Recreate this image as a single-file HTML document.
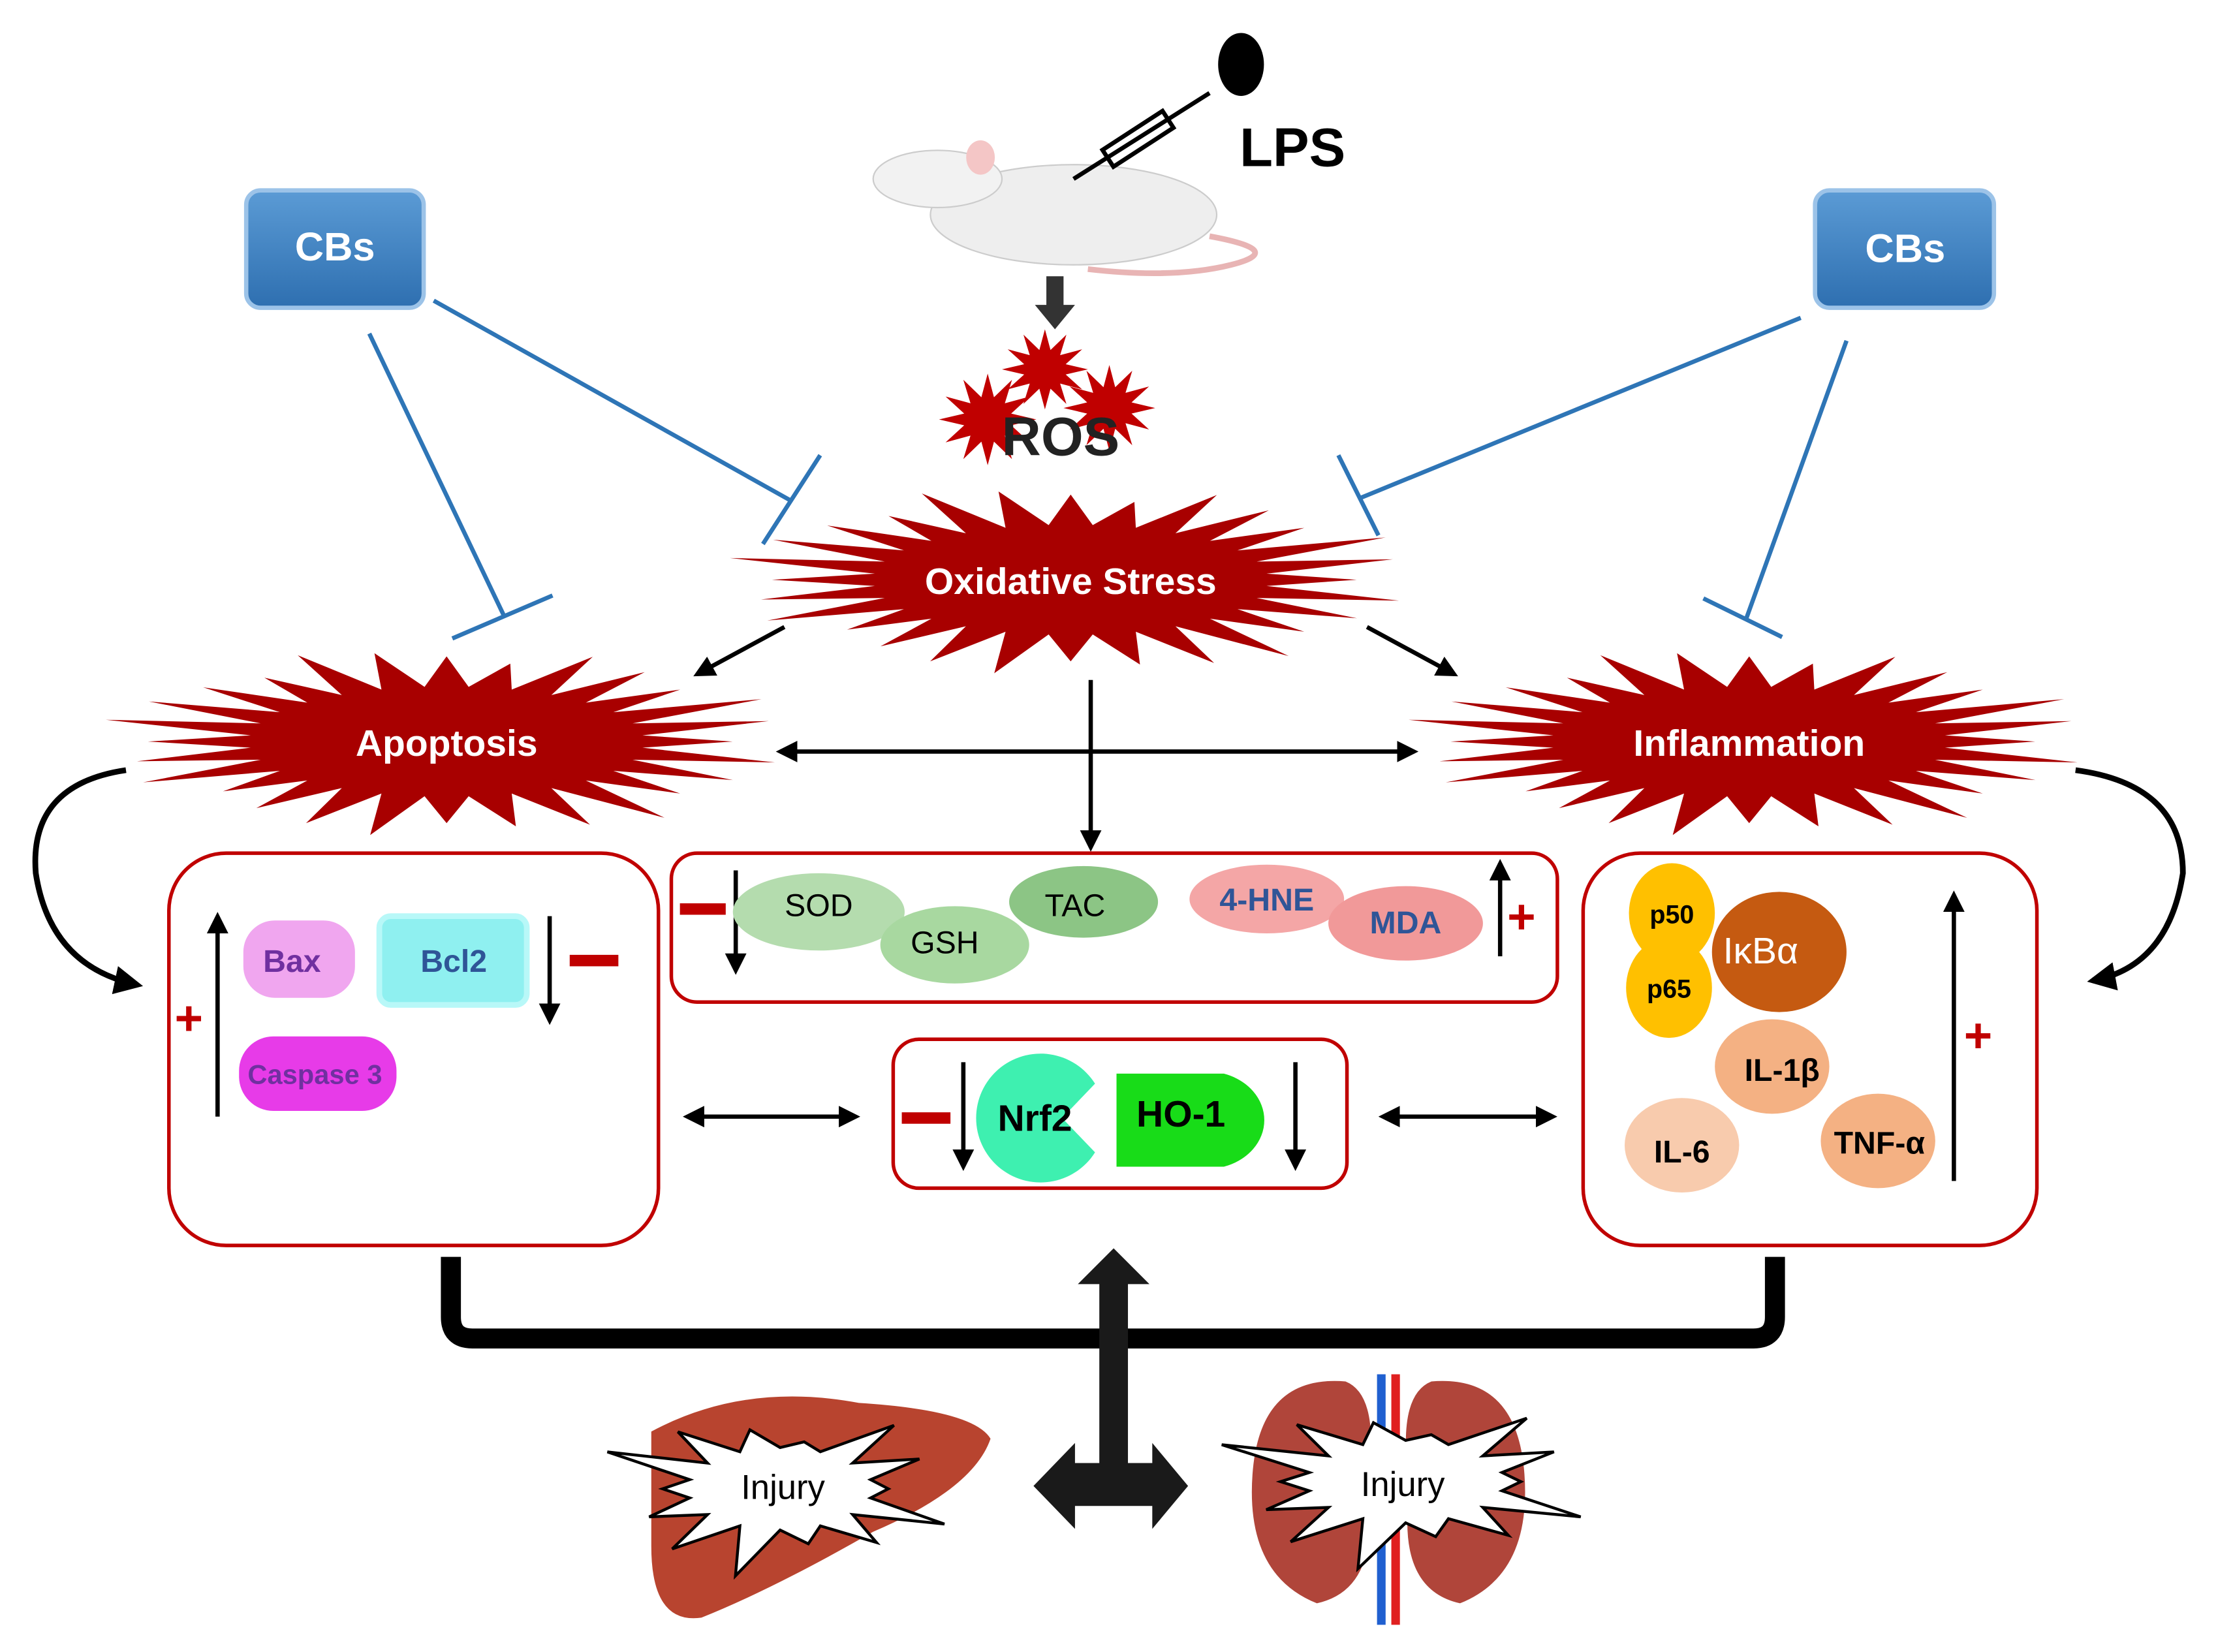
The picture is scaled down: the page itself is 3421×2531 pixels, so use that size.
<!DOCTYPE html>
<html><head><meta charset="utf-8"><style>
html,body{margin:0;padding:0;background:#fff}
svg{display:block}
text{font-family:"Liberation Sans","DejaVu Sans",sans-serif}
</style></head><body>
<svg id="s" width="3421" height="2531" viewBox="0 0 1560 1154" preserveAspectRatio="none" xmlns="http://www.w3.org/2000/svg">
<defs>
<marker id="ah" viewBox="0 0 10 10" refX="8" refY="5" markerWidth="5" markerHeight="5" orient="auto-start-reverse"><path d="M0,0L10,5L0,10z" fill="#000"/></marker>
<linearGradient id="cb" x1="0" y1="0" x2="0" y2="1"><stop offset="0" stop-color="#5b9bd5"/><stop offset="1" stop-color="#2e6fb0"/></linearGradient>
</defs>
<g id="bursts"></g>
<rect x="172" y="133" width="124" height="82" rx="10" fill="url(#cb)" stroke="#9cc3e8" stroke-width="3"/>
<text x="234" y="182" font-size="28" font-weight="bold" fill="#fff" text-anchor="middle">CBs</text>
<rect x="1268" y="133" width="125" height="82" rx="10" fill="url(#cb)" stroke="#9cc3e8" stroke-width="3"/>
<text x="1331" y="183" font-size="28" font-weight="bold" fill="#fff" text-anchor="middle">CBs</text>
<g stroke="#2e75b6" stroke-width="3">
<line x1="258" y1="233" x2="352" y2="430"/><line x1="316" y1="446" x2="386" y2="416"/>
<line x1="303" y1="210" x2="553" y2="350"/><line x1="533" y1="380" x2="573" y2="318"/>
<line x1="1258" y1="222" x2="950" y2="348"/><line x1="935" y1="318" x2="963" y2="374"/>
<line x1="1290" y1="238" x2="1220" y2="432"/><line x1="1190" y1="418" x2="1245" y2="445"/>
</g>
<ellipse cx="750" cy="150" rx="100" ry="35" fill="#eee" stroke="#ccc"/>
<ellipse cx="655" cy="125" rx="45" ry="20" fill="#f2f2f2" stroke="#ccc"/>
<ellipse cx="685" cy="110" rx="10" ry="12" fill="#f4c6c6"/>
<path d="M845,165 Q900,175 860,185 Q820,195 760,188" fill="none" stroke="#e8b4b4" stroke-width="4"/>
<g stroke="#000" stroke-width="3" fill="none"><line x1="750" y1="125" x2="845" y2="65"/><rect x="770" y="90" width="50" height="14" transform="rotate(-33 795 97)"/></g>
<ellipse cx="867" cy="45" rx="16" ry="22" fill="#000"/>
<text x="866" y="116" font-size="38" font-weight="bold">LPS</text>
<path d="M731,193h12v20h8l-14,17l-14,-17h8z" fill="#333"/>
<text x="741" y="318" font-size="38" font-weight="bold" text-anchor="middle" fill="#222">ROS</text>
<text x="748" y="415" font-size="26" font-weight="bold" fill="#fff" text-anchor="middle">Oxidative Stress</text>
<text x="312" y="528" font-size="26" font-weight="bold" fill="#fff" text-anchor="middle">Apoptosis</text>
<text x="1222" y="528" font-size="26" font-weight="bold" fill="#fff" text-anchor="middle">Inflammation</text>
<g stroke="#000" stroke-width="3" fill="none" marker-end="url(#ah)">
<line x1="548" y1="438" x2="487" y2="471"/>
<line x1="955" y1="438" x2="1016" y2="471"/>
<line x1="762" y1="475" x2="762" y2="592"/>
<line x1="545" y1="525" x2="988" y2="525" marker-start="url(#ah)"/>
<line x1="480" y1="780" x2="598" y2="780" marker-start="url(#ah)"/>
<line x1="966" y1="780" x2="1085" y2="780" marker-start="url(#ah)"/>
<path d="M88,538 Q20,548 25,610 Q35,675 96,688" stroke-width="4"/>
<path d="M1450,538 Q1525,548 1525,610 Q1515,675 1462,685" stroke-width="4"/>
<line x1="152" y1="780" x2="152" y2="640"/>
<line x1="384" y1="640" x2="384" y2="713"/>
<line x1="514" y1="608" x2="514" y2="678"/>
<line x1="1048" y1="668" x2="1048" y2="603"/>
<line x1="673" y1="742" x2="673" y2="815"/>
<line x1="905" y1="742" x2="905" y2="815"/>
<line x1="1365" y1="825" x2="1365" y2="625"/>
</g>
<g fill="none" stroke="#c00000" stroke-width="2.5">
<rect x="118" y="596" width="342" height="274" rx="40"/>
<rect x="469" y="596" width="619" height="104" rx="18"/>
<rect x="624" y="726" width="317" height="104" rx="18"/>
<rect x="1106" y="596" width="317" height="274" rx="40"/>
</g>
<g fill="#c00000">
<rect x="398" y="667" width="34" height="8"/><rect x="475" y="631" width="32" height="8"/><rect x="630" y="777" width="34" height="8"/>
</g>
<g fill="#c00000" font-size="34" font-weight="bold"><text x="122" y="723">+</text><text x="1053" y="652">+</text><text x="1372" y="735">+</text></g>
<rect x="170" y="643" width="78" height="54" rx="22" fill="#f0a6ef"/>
<text x="204" y="679" font-size="22" font-weight="bold" fill="#7030a0" text-anchor="middle">Bax</text>
<rect x="265" y="640" width="103" height="62" rx="8" fill="#8ff0f0" stroke="#b8f8f8" stroke-width="4"/>
<text x="317" y="679" font-size="22" font-weight="bold" fill="#2f5597" text-anchor="middle">Bcl2</text>
<rect x="167" y="724" width="110" height="52" rx="24" fill="#e73be8"/>
<text x="220" y="757" font-size="19" font-weight="bold" fill="#7030a0" text-anchor="middle">Caspase 3</text>
<ellipse cx="572" cy="637" rx="60" ry="27" fill="#b4dcae"/>
<ellipse cx="667" cy="660" rx="52" ry="27" fill="#a8d8a0"/>
<ellipse cx="757" cy="630" rx="52" ry="25" fill="#8cc585"/>
<ellipse cx="885" cy="628" rx="54" ry="24" fill="#f4a6a6"/>
<ellipse cx="982" cy="645" rx="54" ry="26" fill="#f19999"/>
<g font-size="22" text-anchor="middle"><text x="572" y="640">SOD</text><text x="660" y="666">GSH</text><text x="751" y="640">TAC</text>
<text x="885" y="636" fill="#2f5597" font-weight="bold">4-HNE</text><text x="982" y="652" fill="#2f5597" font-weight="bold">MDA</text></g>
<path d="M765,757 A45,45 0 1 0 765,805 L742,781z" fill="#3ef0b0"/>
<path d="M780,750 H855 A40,34 0 0 1 855,815 H780z" fill="#18dc18"/>
<text x="723" y="790" font-size="26" font-weight="bold" text-anchor="middle">Nrf2</text>
<text x="825" y="787" font-size="26" font-weight="bold" text-anchor="middle">HO-1</text>
<ellipse cx="1243" cy="665" rx="47" ry="42" fill="#c55a11"/>
<ellipse cx="1168" cy="638" rx="30" ry="35" fill="#ffc000"/>
<ellipse cx="1166" cy="690" rx="30" ry="35" fill="#ffc000"/>
<text x="1168" y="645" font-size="18" font-weight="bold" text-anchor="middle">p50</text>
<text x="1166" y="697" font-size="18" font-weight="bold" text-anchor="middle">p65</text>
<text x="1230" y="673" font-size="26" fill="#fff" text-anchor="middle">IκBα</text>
<ellipse cx="1238" cy="745" rx="40" ry="33" fill="#f4b183"/>
<ellipse cx="1175" cy="800" rx="40" ry="33" fill="#f8cbad"/>
<ellipse cx="1312" cy="797" rx="40" ry="33" fill="#f4b183"/>
<g font-size="22" font-weight="bold" text-anchor="middle"><text x="1245" y="755">IL-1β</text><text x="1175" y="812">IL-6</text><text x="1313" y="806">TNF-α</text></g>
<path d="M315,878 V920 Q315,935 330,935 H1225 Q1240,935 1240,920 V878" fill="none" stroke="#000" stroke-width="14"/>
<path d="M778,872 L803,897 H788 V1022 H805 V1008 L830,1038 L805,1068 V1052 H751 V1068 L722,1038 L751,1008 V1022 H768 V897 H753z" fill="#1a1a1a"/>
<path d="M455,1000 Q520,965 600,980 Q680,985 692,1005 Q680,1040 610,1070 Q540,1110 490,1130 Q455,1135 455,1080z" fill="#b8442f"/>
<path d="M875,1030 Q880,960 940,965 Q965,975 955,1040 Q965,1110 920,1120 Q870,1100 875,1030z" fill="#b0453a"/>
<path d="M1065,1030 Q1060,960 1000,965 Q975,975 985,1040 Q975,1110 1020,1120 Q1070,1100 1065,1030z" fill="#b0453a"/>
<rect x="962" y="960" width="6" height="175" fill="#2060d0"/><rect x="972" y="960" width="6" height="175" fill="#e02020"/>
<g id="inj"></g>
<text x="547" y="1047" font-size="24" text-anchor="middle">Injury</text>
<text x="980" y="1045" font-size="24" text-anchor="middle">Injury</text>
</svg>
<script>
function burst(cx,cy,rx,ry,n,inner,fill,stroke,sw,parent,jit){
 var p=[];for(var i=0;i<2*n;i++){var a=Math.PI*i/n;var r=i%2?inner:1;if(jit&&!(i%2))r*=1+((i*37)%11-5)*jit;
 p.push((cx+Math.cos(a)*rx*r).toFixed(1)+','+(cy+Math.sin(a)*ry*r).toFixed(1));}
 var e=document.createElementNS('http://www.w3.org/2000/svg','polygon');e.setAttribute('points',p.join(' '));
 e.setAttribute('fill',fill);if(stroke){e.setAttribute('stroke',stroke);e.setAttribute('stroke-width',sw);}
 document.getElementById(parent).appendChild(e);}
var R='#a80000';
burst(748,405,222,62,28,0.62,R,null,0,'bursts',0.02);
burst(312,518,222,62,28,0.62,R,null,0,'bursts',0.02);
burst(1222,518,222,62,28,0.62,R,null,0,'bursts',0.02);
burst(690,293,34,32,12,0.5,'#c00000',null,0,'bursts');
burst(730,258,30,28,12,0.5,'#c00000',null,0,'bursts');
burst(775,285,32,30,12,0.5,'#c00000',null,0,'bursts');
burst(545,1040,108,48,14,0.6,'#fff','#000',2,'inj',0.06);
burst(982,1035,115,48,14,0.6,'#fff','#000',2,'inj',0.06);
</script>
</body></html>
